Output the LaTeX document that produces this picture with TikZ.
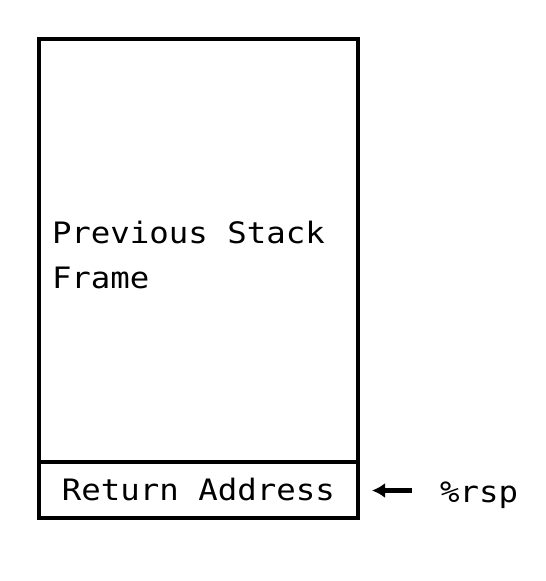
\documentclass[tikz,border=0pt]{standalone}
\usepackage{fontspec}
\newfontfamily\monofam[FakeStretch=1.098]{DejaVu Sans Mono}
\usetikzlibrary{arrows.meta}
\tikzset{
  stackbox/.style={draw, line width=4pt, rectangle, inner sep=0pt, outer sep=0pt, minimum width=318.2pt},
  labeltext/.style={font=\monofam\fontsize{29.5}{45.5}\selectfont, inner sep=0pt, outer sep=0pt},
  pointer/.style={line width=5pt, -{Latex[length=13pt,width=15pt]}}
}
\begin{document}
\begin{tikzpicture}[x=1pt,y=-1pt]
\useasboundingbox (0,0) rectangle (546,581);
\node[stackbox, minimum height=423pt, anchor=north west] (frame) at (39.3,39) {};
\node[stackbox, minimum height=55.5pt, anchor=north west] (ret) at (39.3,462) {};
\node[labeltext, align=left, anchor=west] (prevtext) at (52,255) {Previous Stack\\Frame};
\node[labeltext] (rettext) at (ret.center) {Return Address};
\node[labeltext, anchor=base west] (rsp) at (440,502) {\%rsp};
\coordinate (tail) at (411.7,490.5);
\draw[pointer, shorten >=14.5pt] (tail) -- (ret.east |- tail);
\end{tikzpicture}
\end{document}
